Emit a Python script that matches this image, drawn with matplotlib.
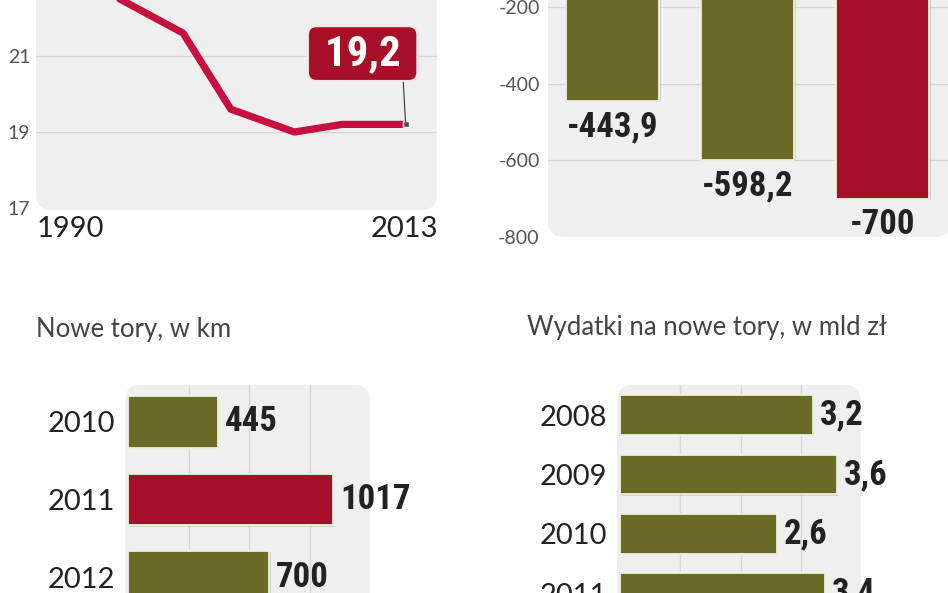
import matplotlib
matplotlib.use('Agg')
import matplotlib.pyplot as plt
import matplotlib.font_manager as fm
import matplotlib.patheffects as pe
from matplotlib.patches import FancyBboxPatch

# ---- data ----
line_years = [1990, 1995, 1999, 2002, 2006, 2009, 2013]
line_vals = [24.4, 22.5, 21.6, 19.6, 19.0, 19.2, 19.2]
line_last_label = '19,2'

saldo_vals = [-443.9, -598.2, -700]
saldo_labels = ['-443,9', '-598,2', '-700']
saldo_ticks = [-800, -600, -400, -200]

tory_title = 'Nowe tory, w km'
tory_years = ['2010', '2011', '2012']
tory_km = [445, 1017, 700]

wyd_title = 'Wydatki na nowe tory, w mld zł'
wyd_years = ['2008', '2009', '2010', '2011']
wyd_vals = [3.2, 3.6, 2.6, 3.4]
wyd_labels = ['3,2', '3,6', '2,6', '3,4']

OLIVE = '#6a6a29'
RED = '#a70f29'
LINE_RED = '#c8103f'
BG = '#efeff0'
GRID = '#d6d6d8'
EDGE = '#f4f0dc'

# narrowest bold available for the numbers
names = {f.name for f in fm.fontManager.ttflist}
cond = dict(family='Roboto', fontweight='bold')
if 'Roboto Condensed' in names:
    cond = dict(family='Roboto Condensed', fontweight='bold')
elif 'Liberation Sans Narrow' in names:
    cond = dict(family='Liberation Sans Narrow', fontweight='bold')

plain = dict(family='Lato')
shadow = [pe.SimplePatchShadow(offset=(1, -1), shadow_rgbFace='#999999', alpha=0.35),
          pe.Normal()]

W, H = 948, 593
fig = plt.figure(figsize=(W / 100, H / 100), dpi=100)
fig.patch.set_facecolor('white')


def px_axes(l, t, r, b):
    ax = fig.add_axes([l / W, 1 - b / H, (r - l) / W, (b - t) / H])
    ax.set_facecolor('none')
    for s in ax.spines.values():
        s.set_visible(False)
    return ax


def bg(l, t, r, b):
    p = FancyBboxPatch((l / 100, (H - b) / 100), (r - l) / 100, (b - t) / 100,
                       boxstyle='round,pad=0,rounding_size=0.16',
                       transform=fig.dpi_scale_trans, fc=BG, ec='none', zorder=-1)
    fig.add_artist(p)


def ftxt(x, y, s, **kw):
    fig.text(x / W, 1 - y / H, s, **kw)


# ---- top left: line ----
bg(36, -30, 437, 210)
ax1 = px_axes(36, 0, 437, 210)
ax1.set_xlim(1989.75, 2014.97)
ax1.set_ylim(16.95, 22.47)
ax1.set_yticks([17, 19, 21])
ax1.set_yticklabels(['17', '19', '21'], color='#555555', fontsize=14, **plain)
ax1.set_xticks([])
ax1.tick_params(axis='y', length=0, pad=4)
ax1.grid(axis='y', color=GRID, lw=1)
ax1.get_ygridlines()[0].set_visible(False)
ax1.set_axisbelow(True)
ax1.plot(line_years, line_vals, color=LINE_RED, lw=5.2, solid_joinstyle='round',
         solid_capstyle='round', zorder=3)
ax1.plot(line_years[-1], line_vals[-1], marker='s', ms=5, mfc='#4a4a4a', mec='white',
         mew=1, zorder=4)
ax1.annotate(' ' + line_last_label + ' ', (line_years[-1], line_vals[-1]),
             xytext=(-31, 51), textcoords='offset points', ha='center', va='center',
             color='white', fontsize=31, zorder=5, **cond,
             bbox=dict(boxstyle='round,pad=0.16,rounding_size=0.2', fc=RED,
                       ec='#f3e6e6', lw=1.5),
             arrowprops=dict(arrowstyle='-', color='#333333', lw=0.8,
                             relpos=(0.92, 0), shrinkA=0, shrinkB=2))
ftxt(37, 237, '1990', ha='left', va='baseline', color='#222222', fontsize=21, **plain)
ftxt(438, 237, '2013', ha='right', va='baseline', color='#222222', fontsize=21, **plain)

# ---- top right: negative bars ----
bg(548, -30, 951, 237)
ax2 = px_axes(548, 0, 948, 237)
x2 = list(range(len(saldo_vals)))
b2 = ax2.bar(x2, saldo_vals, width=0.69, color=[OLIVE, OLIVE, RED], edgecolor=EDGE,
             lw=1.3, zorder=3)
ax2.set_xlim(-0.48, 2.485)
ax2.set_ylim(-800, -181.7)
ax2.set_yticks(saldo_ticks)
ax2.set_yticklabels([str(t) for t in saldo_ticks], color='#555555', fontsize=14, **plain)
ax2.set_xticks([])
ax2.tick_params(axis='y', length=0, pad=6)
ax2.grid(axis='y', color=GRID, lw=1)
ax2.get_ygridlines()[0].set_visible(False)
ax2.set_axisbelow(True)
for i, (v, s) in enumerate(zip(saldo_vals, saldo_labels)):
    ax2.annotate(s, (i, v), xytext=(0, -7), textcoords='offset points', ha='center',
                 va='top', fontsize=25, color='#222222', **cond)

# ---- bottom left: new tracks km ----
ftxt(36, 337, tory_title, ha='left', va='baseline', color='#444444', fontsize=18.5,
     **plain)
bg(125, 385, 370, 620)
ax3 = px_axes(125, 385, 370, 593)
y3 = list(range(len(tory_km)))
b3 = ax3.barh(y3, tory_km, height=0.67, color=[OLIVE, RED, OLIVE], edgecolor=EDGE,
              lw=1.3, zorder=3)
ax3.set_xlim(-14.9, 1200)
ax3.set_ylim(2.206, -0.477)
ax3.set_xticks([300, 600, 900])
ax3.set_xticklabels([])
ax3.set_yticks(y3)
ax3.set_yticklabels(tory_years, color='#222222', fontsize=21, **plain)
ax3.tick_params(length=0)
ax3.tick_params(axis='y', pad=7)
ax3.grid(axis='x', color=GRID, lw=1)
ax3.set_axisbelow(True)
for i, v in enumerate(tory_km):
    ax3.annotate(str(v), (v, i), xytext=(5, 0), textcoords='offset points', ha='left',
                 va='center', fontsize=25, color='#222222', **cond)

# ---- bottom right: spending ----
ftxt(527, 335, wyd_title, ha='left', va='baseline', color='#444444', fontsize=18.5,
     **plain)
bg(617, 385, 861, 620)
ax4 = px_axes(617, 385, 861, 593)
y4 = list(range(len(wyd_vals)))
b4 = ax4.barh(y4, wyd_vals, height=0.67, color=OLIVE, edgecolor=EDGE, lw=1.3, zorder=3)
ax4.set_xlim(-0.05, 4.0)
ax4.set_ylim(2.902, -0.508)
ax4.set_xticks([1, 2, 3])
ax4.set_xticklabels([])
ax4.set_yticks(y4)
ax4.set_yticklabels(wyd_years, color='#222222', fontsize=21, **plain)
ax4.tick_params(length=0)
ax4.tick_params(axis='y', pad=7)
ax4.grid(axis='x', color=GRID, lw=1)
ax4.set_axisbelow(True)
for i, (v, s) in enumerate(zip(wyd_vals, wyd_labels)):
    ax4.annotate(s, (v, i), xytext=(5, 0), textcoords='offset points', ha='left',
                 va='center', fontsize=25, color='#222222', **cond)

for bars in (b2, b3, b4):
    for r in bars:
        r.set_path_effects(shadow)

fig.savefig('out.png', dpi=100, facecolor='white')
